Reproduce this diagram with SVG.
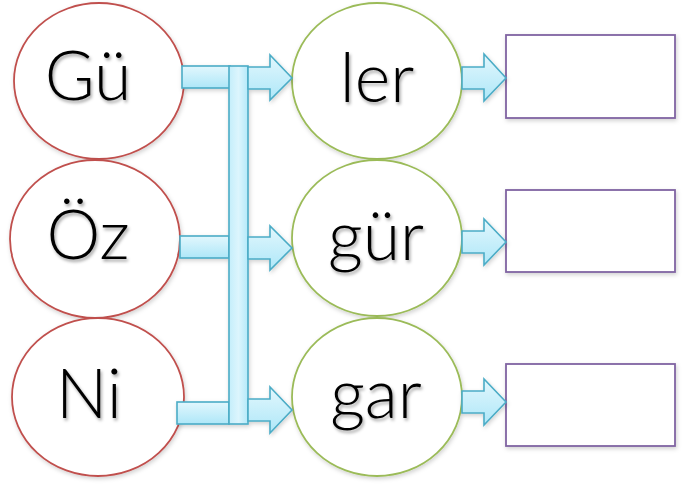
<svg xmlns="http://www.w3.org/2000/svg" width="689" height="488" viewBox="0 0 689 488">
<defs>
<linearGradient id="bg" x1="0" y1="0" x2="0" y2="1">
<stop offset="0" stop-color="#e2f7fd"/>
<stop offset="1" stop-color="#aee7f8"/>
</linearGradient>
<linearGradient id="bgv" x1="0" y1="0" x2="1" y2="0">
<stop offset="0" stop-color="#c4eefb"/>
<stop offset="0.5" stop-color="#dcf5fd"/>
<stop offset="1" stop-color="#b4e9f9"/>
</linearGradient>
<filter id="ts" x="-20%" y="-20%" width="150%" height="150%">
<feDropShadow dx="1.5" dy="2.5" stdDeviation="1.5" flood-color="#000" flood-opacity="0.35"/>
</filter>
<filter id="ss" x="-10%" y="-10%" width="125%" height="125%">
<feDropShadow dx="1" dy="2" stdDeviation="2" flood-color="#000" flood-opacity="0.18"/>
</filter>
</defs>
<style>
.red{fill:#fff;stroke:#c0504d;stroke-width:1.8}
.grn{fill:#fff;stroke:#9bbb59;stroke-width:1.8}
.box{fill:#fff;stroke:#8064a2;stroke-width:1.8}
.blu{fill:url(#bg);stroke:#4bacc6;stroke-width:1.6}
.v{fill:url(#bgv);stroke:#4bacc6;stroke-width:1.6}
text{font-family:Lato,"Liberation Sans",Arial,sans-serif;font-weight:300;font-size:68px;fill:#000;text-anchor:middle}
</style>
<g id="n-gu" filter="url(#ss)"><ellipse class="red" cx="99" cy="81" rx="85" ry="78"/><text x="88" y="100" filter="url(#ts)">Gü</text></g>
<g id="n-oz" filter="url(#ss)"><ellipse class="red" cx="95" cy="239" rx="85" ry="79"/><text x="88" y="259" filter="url(#ts)">Öz</text></g>
<g id="n-ni" filter="url(#ss)"><ellipse class="red" cx="98" cy="397" rx="86" ry="79"/><text x="89" y="418" filter="url(#ts)">Ni</text></g>
<g id="n-ler" filter="url(#ss)"><ellipse class="grn" cx="377" cy="81" rx="85" ry="78"/><text x="377" y="102" filter="url(#ts)">ler</text></g>
<g id="n-gur" filter="url(#ss)"><ellipse class="grn" cx="377" cy="238" rx="85" ry="78"/><text x="376" y="260" filter="url(#ts)">gür</text></g>
<g id="n-gar" filter="url(#ss)"><ellipse class="grn" cx="377" cy="397" rx="85" ry="79"/><text x="376" y="418" filter="url(#ts)">gar</text></g>
<g id="b1" filter="url(#ss)"><rect class="box" x="506" y="35" width="169" height="83"/></g>
<g id="b2" filter="url(#ss)"><rect class="box" x="506" y="190" width="169" height="82"/></g>
<g id="b3" filter="url(#ss)"><rect class="box" x="506" y="364" width="169" height="82"/></g>
<g id="connectors" filter="url(#ss)">
<rect class="blu" x="182" y="66" width="48" height="22"/>
<rect class="blu" x="180" y="236" width="49" height="22"/>
<rect class="blu" x="177" y="402" width="52" height="22"/>
<rect class="v" x="229" y="66" width="19" height="358"/>
<path class="blu" d="M248 67 H270 V55 L292 78 L270 100 V89 H248 Z"/>
<path class="blu" d="M248 237 H270 V226 L292 248 L270 270 V259 H248 Z"/>
<path class="blu" d="M248 399 H270 V387 L292 410 L270 433 V421 H248 Z"/>
<path class="blu" d="M462 67 H484 V54 L506 78 L484 101 V89 H462 Z"/>
<path class="blu" d="M462 231 H484 V219 L506 242 L484 265 V253 H462 Z"/>
<path class="blu" d="M462 391 H484 V379 L506 402 L484 425 V413 H462 Z"/>
</g>
</svg>
